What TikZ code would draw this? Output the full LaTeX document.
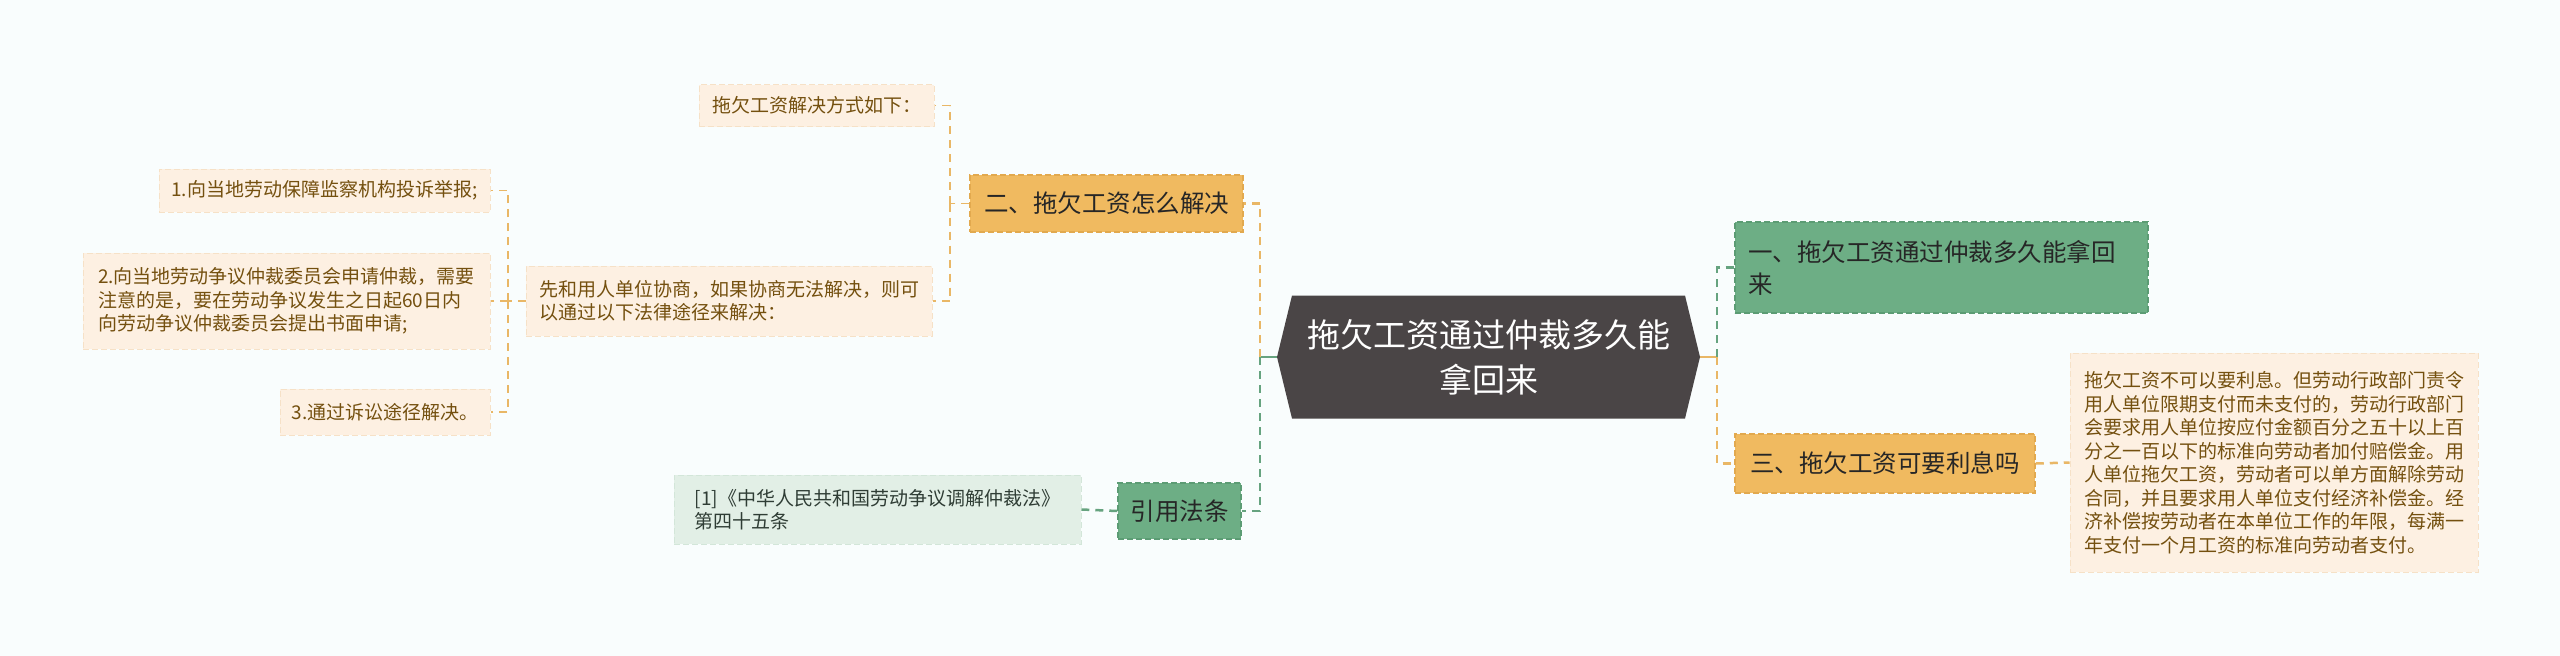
\documentclass[tikz,border=0pt]{standalone}
\usepackage{fontspec}
\setmainfont{Noto Sans CJK SC}

\definecolor{bgcol}{HTML}{F9FDFD}
\definecolor{hubfill}{HTML}{4A4546}
\definecolor{orangefill}{HTML}{F0BA60}
\definecolor{orangeedge}{HTML}{E2A94E}
\definecolor{orangeline}{HTML}{E9B766}
\definecolor{greenfill}{HTML}{6DAE85}
\definecolor{greenedge}{HTML}{5C9C74}
\definecolor{greenline}{HTML}{66A37F}
\definecolor{peachfill}{HTML}{FDF0E2}
\definecolor{peachedge}{HTML}{F6E1C7}
\definecolor{mintfill}{HTML}{E2EFE6}
\definecolor{mintedge}{HTML}{D3E6D9}
\definecolor{brownink}{HTML}{74500F}
\definecolor{mintink}{HTML}{2F3D35}

\begin{document}
\begin{tikzpicture}[x=1pt,y=-1pt,
	hubtext/.style={text=white,align=center,minimum width=423pt,minimum height=123pt,inner sep=0pt,font=\fontsize{33}{45}\selectfont},
	catbox/.style={dash pattern=on 6pt off 3pt,line width=1.5pt,text=black!85,inner sep=0pt,align=left,font=\fontsize{24.5}{32}\selectfont},
	orangecat/.style={catbox,fill=orangefill,draw=orangeedge},
	greencat/.style={catbox,fill=greenfill,draw=greenedge},
	leaf/.style={fill=peachfill,draw=peachedge,dash pattern=on 6pt off 3pt,line width=1pt,text=brownink,inner sep=0pt,align=left,font=\fontsize{19}{23.5}\selectfont},
	mintleaf/.style={leaf,fill=mintfill,draw=mintedge,text=mintink},
	orangelink/.style={draw=orangeline,dash pattern=on 8pt off 6pt,line width=2.5pt},
	greenlink/.style={draw=greenline,dash pattern=on 8pt off 6pt,line width=2.5pt},
	thinlink/.style={draw=orangeline,dash pattern=on 8pt off 6pt,line width=1.8pt}]
	\useasboundingbox (0,0) rectangle (2560,656);
	\fill[bgcol] (0,0) rectangle (2560,656);
	\coordinate (hubc) at (1488.5,357);
	\fill[hubfill] (hubc) ++(-211.5,0) -- ++(15,-61.5) -- ++(393,0) -- ++(15,61.5) -- ++(-15,61.5) -- ++(-393,0) -- cycle;
	\node at (hubc) (hub) [hubtext]{拖欠工资通过仲裁多久能\\拿回来};
	\node at (1106.5,203.5) (q2) [orangecat,minimum width=273pt,minimum height=57pt]{二、拖欠工资怎么解决};
	\node at (816.5,105.5) (lead) [leaf,minimum width=235pt,minimum height=42pt]{拖欠工资解决方式如下：};
	\node at (729,301) (mid) [leaf,minimum width=406pt,minimum height=70pt]{先和用人单位协商，如果协商无法解决，则可\\以通过以下法律途径来解决：};
	\node at (324.5,190.5) (it1) [leaf,minimum width=331pt,minimum height=43pt]{1.向当地劳动保障监察机构投诉举报;};
	\node at (286.5,301) (it2) [leaf,minimum width=407pt,minimum height=96pt]{2.向当地劳动争议仲裁委员会申请仲裁，需要\\注意的是，要在劳动争议发生之日起60日内\\向劳动争议仲裁委员会提出书面申请;};
	\node at (385,412) (it3) [leaf,minimum width=210pt,minimum height=46pt]{3.通过诉讼途径解决。};
	\node at (1179.5,511) (law) [greencat,minimum width=123pt,minimum height=56pt]{引用法条};
	\node at (877.5,509.5) (cite) [mintleaf,minimum width=407pt,minimum height=69pt]{[1]《中华人民共和国劳动争议调解仲裁法》\\第四十五条};
	\node at (1941.5,267.5) (q1) [greencat,text width=387pt,inner xsep=13pt,minimum height=91pt]{一、拖欠工资通过仲裁多久能拿回\\来};
	\node at (1885,463.5) (q3) [orangecat,minimum width=300pt,minimum height=59pt]{三、拖欠工资可要利息吗};
	\node at (2274,462.5) (note) [leaf,minimum width=408pt,minimum height=219pt]{拖欠工资不可以要利息。但劳动行政部门责令\\用人单位限期支付而未支付的，劳动行政部门\\会要求用人单位按应付金额百分之五十以上百\\分之一百以下的标准向劳动者加付赔偿金。用\\人单位拖欠工资，劳动者可以单方面解除劳动\\合同，并且要求用人单位支付经济补偿金。经\\济补偿按劳动者在本单位工作的年限，每满一\\年支付一个月工资的标准向劳动者支付。};
	\coordinate (lfork) at (1260,357);
	\coordinate (rfork) at (1717,357);
	\coordinate (q2fork) at (950,203.5);
	\coordinate (midfork) at (508,301);
	\draw[greenline,line width=2.5pt](hub.west) -- (lfork);
	\draw[orangelink](lfork) |- (q2.east);
	\draw[greenlink](lfork) |- (law.east);
	\draw[orangeline,line width=2.5pt](hub.east) -- (rfork);
	\draw[greenlink](rfork) |- (q1.west);
	\draw[orangelink](rfork) |- (q3.west);
	\draw[orangelink](q3.east) -- (note.west);
	\draw[greenlink](law.west) -- (cite.east);
	\draw[thinlink](q2.west) -- (q2fork);
	\draw[thinlink](q2fork) |- (lead.east);
	\draw[thinlink](q2fork) |- (mid.east);
	\draw[thinlink](mid.west) -- (midfork);
	\draw[thinlink](midfork) |- (it1.east);
	\draw[thinlink](midfork) -- (it2.east);
	\draw[thinlink](midfork) |- (it3.east);
\end{tikzpicture}
\end{document}
